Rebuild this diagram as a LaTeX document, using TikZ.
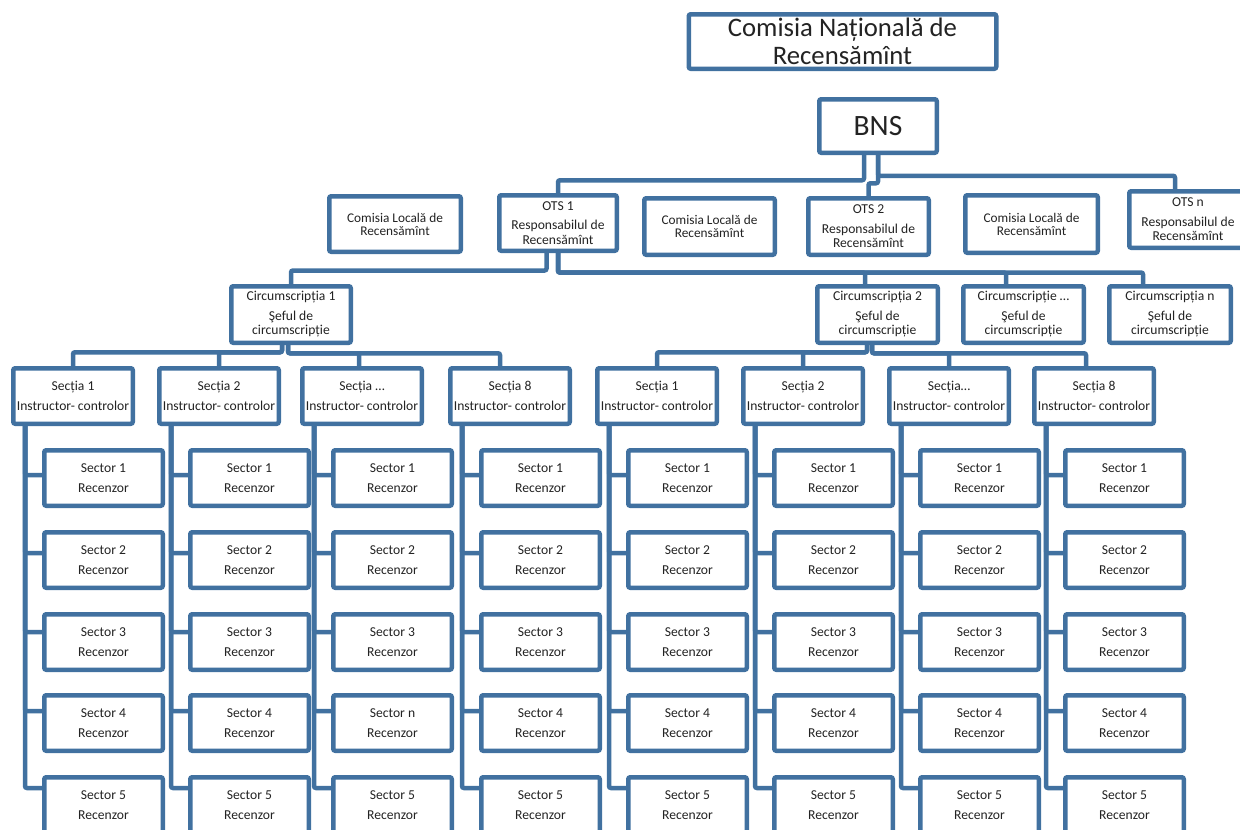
\documentclass[tikz,border=0pt]{standalone}
\usepackage{fontspec}
\setmainfont{Carlito}
\definecolor{orgblue}{RGB}{65,113,160}
\definecolor{orgtext}{RGB}{35,35,35}

\begin{document}
\begin{tikzpicture}
[x=1pt,y=-1pt]
\tikzset{box/.style={draw=orgblue,line width=4.5pt,rounded corners=2pt,fill=white,text=orgtext,align=center,inner sep=0pt,outer sep=0pt,minimum width=118.5pt,minimum height=55.5pt,font=\fontsize{13.6}{14.5}\selectfont}}
\tikzset{wire/.style={draw=orgblue,line width=4.5pt,rounded corners=2pt}}
\path [use as bounding box,clip] (0,0) rectangle (1240,830);

\node [box,minimum width=307.5pt,minimum height=54.5pt,font=\fontsize{26.7}{28}\selectfont] (cnr) at (842.5,41.5) {Comisia Națională de\\Recensămînt};
\node [box,minimum width=117.5pt,minimum height=53.5pt,font=\fontsize{29.5}{30}\selectfont] (bns) at (878,126) {BNS};

\node [box,minimum width=131.5pt,font=\fontsize{13.3}{13}\selectfont] (cl1) at (395,224) {Comisia Locală de\\Recensămînt};
\node [box,minimum width=117.5pt] (ots1) at (558,223) {OTS 1\\[5pt]Responsabilul de\\Recensămînt};
\node [box,minimum width=130.5pt,minimum height=56.5pt,font=\fontsize{13.3}{13}\selectfont] (cl2) at (709.5,226.5) {Comisia Locală de\\Recensămînt};
\node [box,minimum width=120.5pt,minimum height=56.5pt] (ots2) at (868.5,226.5) {OTS 2\\[5pt]Responsabilul de\\Recensămînt};
\node [box,minimum width=132.5pt,minimum height=57.5pt,font=\fontsize{13.3}{13}\selectfont] (cl3) at (1031.5,224) {Comisia Locală de\\Recensămînt};
\node [box,minimum width=117.5pt,minimum height=56.5pt] (otsn) at (1188,219.5) {OTS n\\[5pt]Responsabilul de\\Recensămînt};

\node [box,minimum width=119.5pt,minimum height=56.5pt] (c1) at (291,314.5) {Circumscripția 1\\[5pt]Şeful de\\circumscripție};
\node [box,minimum width=120.5pt,minimum height=56.5pt] (c2) at (877.5,314.5) {Circumscripția 2\\[5pt]Şeful de\\circumscripție};
\node [box,minimum width=120.5pt,minimum height=56.5pt] (c3) at (1023.5,314.5) {Circumscripție …\\[5pt]Şeful de\\circumscripție};
\node [box,minimum width=121.5pt,minimum height=56.5pt] (cn) at (1170,314.5) {Circumscripția n\\[5pt]Şeful de\\circumscripție};

\foreach \s/\x/\t in {1/73/Secția 1,2/219/Secția 2,3/362/Secția …,4/510/Secția 8,5/657/Secția 1,6/803/Secția 2,7/949/Secția…,8/1094/Secția 8}
	\node [box,minimum width=119.5pt] (sec\s) at (\x,396) {\t\\[5pt]Instructor- controlor};

\foreach \from/\dx/\dy/\to/\ex in {bns/-14/27.5/ots1/0,bns/0/30.5/ots2/0,bns/0/23/otsn/-13,ots1/-11.5/19.75/c1/0,ots1/0/21.75/c2/-12.5,ots1/0/21.75/c3/-17.5,ots1/0/21.75/cn/-27,c1/-9/9.5/sec1/0,c1/-9/9.5/sec2/0,c1/-3/10.5/sec3/-3,c1/-3/10.5/sec4/-10,c2/-10.5/9.5/sec5/0,c2/-10.5/9.5/sec6/0,c2/-5.5/10.5/sec7/0,c2/-5.5/10.5/sec8/-8}
	\draw [wire] ([xshift=\dx pt]\from.south) -- ++(0,\dy) -| ([xshift=\ex pt]\to.north);

\foreach \s/\x in {1/73,2/219,3/362,4/510,5/657,6/803,7/949,8/1094}
	\foreach \j/\y/\up in {1/478/3,2/560/7,3/642/10,4/723/12,5/805/17} {
		\ifnum\s\j=34 \def\lab{n}\else\def\lab{\j}\fi
		\node [box] (sec\s-\j) at (\x+30.5,\y) {Sector \lab\\[5pt]Recenzor};
		\draw [wire] ([xshift=-48pt]sec\s.south) |- ([yshift=\up pt]sec\s-\j.west);
	}

\end{tikzpicture}
\end{document}
